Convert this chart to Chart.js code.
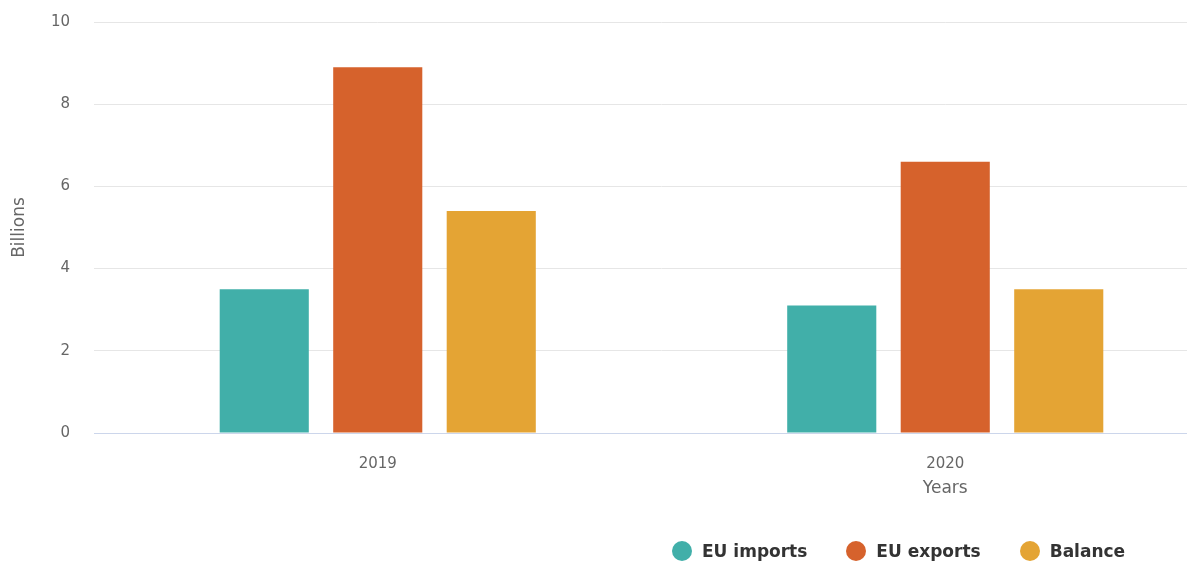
<!DOCTYPE html>
<html>
<head>
<meta charset="utf-8">
<script src="https://cdn.jsdelivr.net/npm/chart.js@4.4.1/dist/chart.umd.min.js"></script>
<style>
    body { margin: 0; background: #fff; font-family: "DejaVu Sans", sans-serif; }
    #wrap { position: relative; width: 1187px; height: 563px; overflow: hidden; }
    #tradeChart { position: absolute; left: 0; top: 0; }
    #legend { position: absolute; left: 672px; top: 541px; display: flex; align-items: center; }
    .legend-item { display: flex; align-items: center; margin-right: 39px; font-weight: bold; font-size: 17px; color: #333; }
    .legend-dot { width: 20px; height: 20px; border-radius: 50%; margin-right: 10px; }
</style>
</head>
<body>
<div id="wrap">
    <canvas id="tradeChart" width="1240" height="563"></canvas>
    <div id="legend"></div>
</div>
<script>
const years = ['2019', '2020'];
const euImports = [3.5, 3.1];
const euExports = [8.9, 6.6];
const balance = [5.4, 3.5];
const yTicks = [0, 2, 4, 6, 8, 10];

const tickColor = '#666666';

// Put "Years" under the second category, like the original
const yearsTitle = {
    id: 'yearsTitle',
    afterDraw(chart) {
        const ctx = chart.ctx;
        const xs = chart.scales.x;
        ctx.save();
        ctx.font = '17px "DejaVu Sans"';
        ctx.fillStyle = tickColor;
        ctx.textAlign = 'center';
        ctx.textBaseline = 'middle';
        ctx.fillText('Years', xs.getPixelForValue(years.length - 1), 489);
        ctx.restore();
    }
};

// Legend built as html from the chart's own datasets
const htmlLegend = {
    id: 'htmlLegend',
    afterUpdate(chart) {
        const box = document.getElementById('legend');
        box.innerHTML = '';
        chart.data.datasets.forEach(ds => {
            const item = document.createElement('div');
            item.className = 'legend-item';
            const dot = document.createElement('span');
            dot.className = 'legend-dot';
            dot.style.background = ds.backgroundColor;
            item.appendChild(dot);
            item.appendChild(document.createTextNode(ds.label));
            box.appendChild(item);
        });
    }
};

const ctx = document.getElementById('tradeChart').getContext('2d');
new Chart(ctx, {
    type: 'bar',
    data: {
        labels: years,
        datasets: [
            { label: 'EU imports', data: euImports, backgroundColor: '#41AFA9' },
            { label: 'EU exports', data: euExports, backgroundColor: '#D6622C' },
            { label: 'Balance', data: balance, backgroundColor: '#E4A434' }
        ]
    },
    options: {
        responsive: false,
        animation: false,
        layout: { padding: { top: 22, right: 11, left: 0, bottom: 0 } },
        datasets: {
            bar: { categoryPercentage: 0.6, barPercentage: 0.785 }
        },
        plugins: {
            legend: { display: false },
            tooltip: { enabled: false }
        },
        scales: {
            x: {
                grid: { display: false },
                border: { color: '#ccd6eb', width: 1 },
                ticks: {
                    color: tickColor,
                    font: { family: 'DejaVu Sans', size: 15 },
                    padding: 14
                },
                afterFit(scale) { scale.height = 130; }
            },
            y: {
                min: 0,
                max: 10,
                afterBuildTicks(scale) { scale.ticks = yTicks.map(v => ({ value: v })); },
                border: { display: false },
                grid: {
                    drawTicks: false,
                    color: c => c.tick.value === 0 ? '#ccd6eb' : '#e6e6e6'
                },
                ticks: {
                    color: tickColor,
                    font: { family: 'DejaVu Sans', size: 15 },
                    padding: 24
                },
                title: {
                    display: true,
                    text: 'Billions',
                    color: tickColor,
                    font: { family: 'DejaVu Sans', size: 17 },
                    padding: { top: 9, bottom: 0 }
                },
                afterFit(scale) {
                    scale.width = 94;
                    // tick padding shouldn't push the plot top down
                    scale.paddingTop = 0;
                    scale.paddingBottom = 0;
                }
            }
        }
    },
    plugins: [yearsTitle, htmlLegend]
});
</script>
</body>
</html>
